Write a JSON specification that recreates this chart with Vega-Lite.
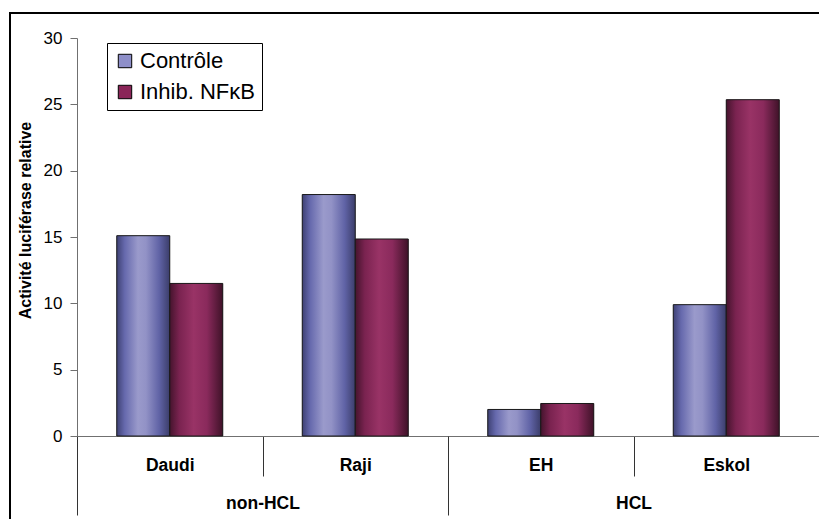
{
  "$schema": "https://vega.github.io/schema/vega-lite/v6.json",
  "width": 809,
  "height": 506,
  "autosize": {"type": "none"},
  "padding": {"left": 10, "top": 13, "right": 0, "bottom": 0},
  "background": "white",
  "config": {
    "font": "Liberation Sans",
    "view": {"stroke": "#000000", "strokeWidth": 2, "strokeDash": [809, 1315, 506]}
  },
  "data": {
    "values": [
      {"cell": "Daudi", "group": "non-HCL", "series": "Contrôle", "value": 15.1},
      {"cell": "Daudi", "group": "non-HCL", "series": "Inhib. NFκB", "value": 11.5},
      {"cell": "Raji", "group": "non-HCL", "series": "Contrôle", "value": 18.2},
      {"cell": "Raji", "group": "non-HCL", "series": "Inhib. NFκB", "value": 14.85},
      {"cell": "EH", "group": "HCL", "series": "Contrôle", "value": 2.0},
      {"cell": "EH", "group": "HCL", "series": "Inhib. NFκB", "value": 2.45},
      {"cell": "Eskol", "group": "HCL", "series": "Contrôle", "value": 9.9},
      {"cell": "Eskol", "group": "HCL", "series": "Inhib. NFκB", "value": 25.35}
    ]
  },
  "layer": [
    {
      "encoding": {
        "x": {
          "field": "cell",
          "type": "nominal",
          "scale": {"domain": ["Daudi", "Raji", "EH", "Eskol"], "range": [67, 809], "paddingInner": 0, "paddingOuter": 0},
          "axis": {
            "orient": "bottom",
            "offset": -83,
            "title": null,
            "tickBand": "extent",
            "tickSize": 40,
            "tickColor": "#333333",
            "domainColor": "#707070",
            "labelAngle": 0,
            "labelFont": "Liberation Sans",
            "labelFontWeight": "bold",
            "labelFontSize": 17.5,
            "labelColor": "#000000",
            "labelBaseline": "middle",
            "labelPadding": -11
          }
        },
        "xOffset": {
          "field": "series",
          "type": "nominal",
          "scale": {"domain": ["Contrôle", "Inhib. NFκB"], "paddingInner": 0, "paddingOuter": 0.75}
        },
        "y": {
          "field": "value",
          "type": "quantitative",
          "scale": {"domain": [0, 30], "range": [423, 25], "nice": false},
          "axis": {
            "values": [0, 5, 10, 15, 20, 25, 30],
            "offset": -67,
            "grid": false,
            "tickSize": 7,
            "tickColor": "#707070",
            "domainColor": "#707070",
            "labelFont": "Liberation Sans",
            "labelFontSize": 17,
            "labelColor": "#000000",
            "labelPadding": 8,
            "title": "Activité luciférase relative",
            "titleFont": "Liberation Sans",
            "titleFontSize": 16,
            "titleFontWeight": "bold",
            "titleColor": "#000000",
            "titleAngle": 270,
            "titleBaseline": "middle",
            "titleAlign": "center",
            "titleX": -52,
            "titleY": 207
          }
        }
      },
      "layer": [
        {
          "mark": {"type": "bar", "stroke": null},
          "encoding": {
            "color": {
              "field": "series",
              "type": "nominal",
              "scale": {"domain": ["Contrôle", "Inhib. NFκB"], "range": ["#8e8fc9", "#8a2558"]},
              "legend": {
                "title": null,
                "orient": "none",
                "legendX": 97,
                "legendY": 30,
                "direction": "vertical",
                "fillColor": "#ffffff",
                "strokeColor": "#000000",
                "padding": 7,
                "symbolType": "square",
                "symbolSize": 180,
                "symbolStrokeColor": "#000000",
                "symbolStrokeWidth": 1,
                "symbolOpacity": 1,
                "labelFont": "Liberation Sans",
                "labelFontSize": 22,
                "labelColor": "#000000",
                "labelOffset": 4,
                "rowPadding": 9
              }
            }
          }
        },
        {
          "transform": [{"filter": "datum.series === 'Contrôle'"}],
          "mark": {
            "type": "bar",
            "stroke": "#1a1a1a",
            "strokeWidth": 1,
            "fill": {
              "gradient": "linear", "x1": 0, "y1": 0, "x2": 1, "y2": 0,
              "stops": [
                {"offset": 0, "color": "#3e4174"},
                {"offset": 0.15, "color": "#6669ad"},
                {"offset": 0.4, "color": "#9a9acb"},
                {"offset": 0.55, "color": "#9292c6"},
                {"offset": 0.8, "color": "#6063a6"},
                {"offset": 1, "color": "#3b3d6a"}
              ]
            }
          }
        },
        {
          "transform": [{"filter": "datum.series !== 'Contrôle'"}],
          "mark": {
            "type": "bar",
            "stroke": "#1a1a1a",
            "strokeWidth": 1,
            "fill": {
              "gradient": "linear", "x1": 0, "y1": 0, "x2": 1, "y2": 0,
              "stops": [
                {"offset": 0, "color": "#45142d"},
                {"offset": 0.18, "color": "#7a2350"},
                {"offset": 0.45, "color": "#993366"},
                {"offset": 0.7, "color": "#8a2a5c"},
                {"offset": 1, "color": "#3f1228"}
              ]
            }
          }
        }
      ]
    },
    {
      "mark": {"type": "point", "opacity": 0},
      "encoding": {
        "x": {
          "field": "group",
          "type": "nominal",
          "scale": {"domain": ["non-HCL", "HCL"], "range": [67, 809], "paddingInner": 0, "paddingOuter": 0},
          "axis": {
            "orient": "bottom",
            "offset": -83,
            "title": null,
            "tickBand": "extent",
            "tickSize": 79,
            "tickColor": "#333333",
            "domain": false,
            "labelAngle": 0,
            "labelFont": "Liberation Sans",
            "labelFontWeight": "bold",
            "labelFontSize": 17.5,
            "labelColor": "#000000",
            "labelBaseline": "middle",
            "labelPadding": -12
          }
        }
      }
    }
  ],
  "resolve": {"scale": {"x": "independent"}, "axis": {"x": "independent"}}
}
